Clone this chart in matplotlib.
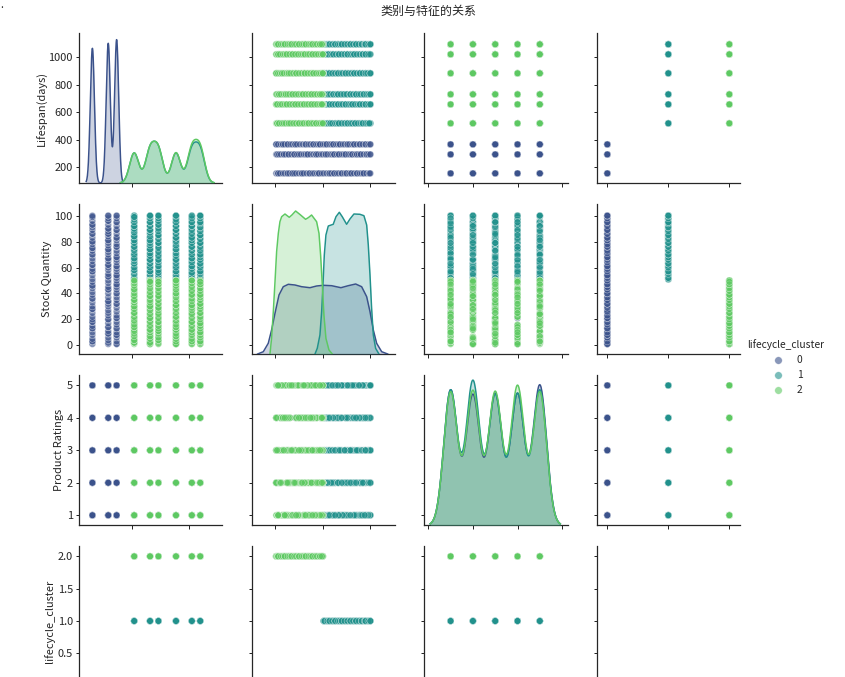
import matplotlib
matplotlib.use("Agg")
import matplotlib.pyplot as plt
from matplotlib.lines import Line2D
import numpy as np

plt.rcParams['font.family'] = ['Noto Sans CJK SC', 'DejaVu Sans']
plt.rcParams['axes.unicode_minus'] = False
plt.rcParams['text.color'] = '.15'
plt.rcParams['axes.labelcolor'] = '.15'
plt.rcParams['xtick.color'] = '.15'
plt.rcParams['ytick.color'] = '.15'
plt.rcParams['axes.edgecolor'] = '.15'

###############################################################################
# Data
###############################################################################

lifespan_levels = [156, 294, 367, 520, 658, 731, 884, 1022, 1095]

# Stock quantity seen at every lifespan (repeats are the darker dots)
stock_156 = [1,3,3,5,8,10,13,13,15,18,18,20,22,25,28,28,30,33,36,36,39,41,44,46,46,49,51,54,57,57,59,62,62,65,67,70,70,73,75,75,78,80,80,83,86,86,89,91,93,93,96,99,99,100]
stock_294 = [1,2,4,6,9,9,11,14,14,17,20,20,23,25,27,30,32,34,34,37,40,43,43,45,48,50,53,53,55,58,60,62,62,65,67,67,70,72,74,74,77,79,81,81,84,86,86,88,90,90,93,96,96,98,100,100]
stock_367 = [1,1,3,6,8,8,10,13,13,16,18,21,21,23,26,29,32,32,35,37,40,40,43,45,47,47,50,52,54,54,57,59,61,61,64,66,68,68,71,73,76,76,78,81,83,83,86,89,89,92,95,95,98,100,100]
stock_520 = [2,3,3,6,8,10,10,13,15,17,17,20,22,25,25,28,30,32,32,35,37,39,39,42,44,47,47,49,51,52,55,57,57,60,63,63,66,68,70,70,73,76,79,79,82,85,85,88,91,91,94,95,95,98,100,100]
stock_658 = [1,3,3,5,8,10,12,12,15,18,18,21,24,27,29,31,31,34,36,39,39,42,45,48,50,50,52,54,56,56,59,61,61,64,67,67,70,73,76,76,79,81,83,83,86,89,92,92,95,95,98,100]
stock_731 = [2,4,4,7,9,11,14,14,16,19,22,25,25,28,30,33,35,35,38,40,43,43,46,48,50,50,52,55,58,58,60,63,65,67,67,70,73,76,76,79,81,84,84,87,90,92,92,95,97,99,99]
stock_884 = [1,2,2,5,7,10,12,12,15,18,21,21,24,27,30,30,33,35,38,38,41,44,47,49,49,51,54,57,57,60,63,66,66,69,71,74,74,77,79,81,81,84,87,89,89,92,95,95,98,100,100]
stock_1022 = [1,4,4,6,9,11,11,13,15,18,18,21,24,27,29,29,32,35,38,38,41,44,47,47,49,52,54,56,56,58,61,61,64,66,66,69,72,75,79,79,82,85,85,88,90,93,93,96,98,100,100]
stock_1095 = [1,1,3,5,7,7,9,12,14,14,16,19,22,22,25,28,31,31,34,37,40,40,43,46,48,50,50,52,54,57,57,60,63,66,66,69,71,74,74,77,80,83,83,86,89,89,92,95,97,100,100]

ratings_a = [3,1,5,2,4,1,4,2,5,3,5,2,1,3,4,2,5,4,1,3,4,1,3,5,2,5,3,2,4,1,2,4,1,5,3,1,5,3,4,2,3,5,2,1,4,4,2,5,1,3,1,3,4,2,5,2,1,5,3,4]
ratings_b = [2,5,3,4,1,4,1,3,2,5,1,3,5,4,2,5,3,1,4,2,3,5,2,1,4,1,4,5,3,2,5,2,4,3,1,4,2,1,5,3,5,1,3,4,2,2,4,1,3,5,3,2,5,4,1,4,3,1,2,5]
ratings_c = [4,2,1,5,3,5,3,1,4,2,3,5,4,2,1,3,1,2,5,4,1,4,5,2,3,2,5,1,4,3,1,3,5,4,2,3,1,4,2,5,2,4,5,3,1,5,1,3,4,2,4,5,1,3,2,3,2,4,5,1]

# level, stock list, rating list; the longer lifespans hold more products
products = [
    (156, stock_156, ratings_a), (294, stock_294, ratings_b), (367, stock_367, ratings_c),
    (520, stock_520, ratings_b), (658, stock_658, ratings_c), (731, stock_731, ratings_a),
    (884, stock_884, ratings_c), (1022, stock_1022, ratings_a), (1095, stock_1095, ratings_b),
    (520, stock_884, ratings_a), (658, stock_1095, ratings_a), (731, stock_520, ratings_c),
    (884, stock_658, ratings_b), (1022, stock_731, ratings_b), (1095, stock_1022, ratings_c),
    (520, stock_731, ratings_c), (658, stock_884, ratings_b), (731, stock_1022, ratings_b),
    (884, stock_1095, ratings_c), (1022, stock_658, ratings_a), (1095, stock_520, ratings_a),
]

# KDE inputs: estimated number of products per level and per cluster
total_products = 10000
life_counts_0 = [1090, 1130, 1160]
life_counts_1 = [540, 570, 570, 540, 560, 560]
life_counts_2 = [540, 570, 570, 545, 595, 595]
rating_levels = [1, 2, 3, 4, 5]
rating_counts_0 = [675, 650, 655, 655, 700]
rating_counts_1 = [675, 720, 650, 655, 675]
rating_counts_2 = [665, 670, 665, 695, 665]

# Stock density curves, heights
stock_kde_x_0 = [-18.6,-12.6,-7.4,-3.9,-0.3,3.9,8.4,13.7,20.7,27.7,36.5,43.5,50.5,59.3,69.1,76.8,84.6,90.9,96.2,99.7,103.2,106.7,112,118.3]
stock_kde_y_0 = [0,2.3,10.7,24,40.7,59,67.3,69.7,69,67.3,66.3,68,68.7,68.3,66.3,68.3,70,67.3,57.3,42.3,24,10.7,2.3,0]
stock_kde_x_1 = [41.8,44.2,47,48.8,50.2,51.6,53.3,55.8,61,63.9,67.4,70.5,75.1,78.6,82.8,89.1,93.3,96.2,97.9,99.7,101.4,103.2,105.6,109.1]
stock_kde_y_1 = [0,5.7,19,42.3,69,99,119,128,129.7,137.3,141.7,137.3,129.7,135,140,139.7,138.3,129,109,79,45.7,19,5.7,0]
stock_kde_x_2 = [-5.6,-3.9,-2.1,-0.3,1.4,3.2,4.9,6.7,10.2,14.7,17.5,21.4,26,31.9,35,38.2,43.5,46,47.7,49.5,51.2,53.3,56.5,60]
stock_kde_y_2 = [0,15.7,42.3,72.3,102.3,120.7,132.3,137.3,140,136.7,139,143,139.5,134.7,136.5,139,132.3,120.7,99,69,39,15.7,4,0]

palette = ['#3b528b', '#21918c', '#5ec962']
names = ['Lifespan(days)', 'Stock Quantity', 'Product Ratings', 'lifecycle_cluster']

###############################################################################
# Build the table
###############################################################################

lifespan = []
stock = []
rating = []
for level, s_list, r_list in products:
    for s, r in zip(s_list, r_list):
        lifespan.append(level)
        stock.append(s)
        rating.append(r)
lifespan = np.array(lifespan)
stock = np.array(stock)
rating = np.array(rating)
cluster = np.where(lifespan < 400, 0, np.where(stock > 50, 1, 2))

# the source table is sorted by cluster, so later clusters sit on top
order = np.argsort(cluster, kind='stable')
columns = [lifespan[order], stock[order], rating[order], cluster[order]]
point_colors = [palette[c] for c in cluster[order]]


def kde(levels, counts, bw):
    levels = np.asarray(levels, dtype=float)
    grid = np.linspace(levels.min() - 3*bw, levels.max() + 3*bw, 300)
    dens = np.zeros_like(grid)
    for level, count in zip(levels, counts):
        dens += count * np.exp(-0.5*((grid - level)/bw)**2) / (bw*np.sqrt(2*np.pi))
    return grid, dens / total_products


###############################################################################
# Figure
###############################################################################

W, H = 845.0, 677.0
fig = plt.figure(figsize=(W/72, H/72), dpi=72)

col_px = [(79.3, 221.7), (252.3, 394.7), (424.3, 567.7), (597.3, 739.7)]
row_px = [(33, 183), (204.3, 354), (375, 525.3), (546.3, 696)]
label_px = [47.5, 51.5, 63.5, 54.5]

xlims = [(42, 1282), (-24.2, 125.7), (-0.18, 6.25), (-0.164, 2.17)]
ylims = [(86, 1177), (-6.7, 108.8), (0.69, 5.32), (-0.16, 2.155)]
xticks = [[500, 1000], [0, 50, 100], [0, 2, 4, 6], [0, 1, 2]]
yticks = [[200, 400, 600, 800, 1000], [0, 20, 40, 60, 80, 100], [1, 2, 3, 4, 5], [0, 0.5, 1, 1.5, 2]]

for i, (top, bottom) in enumerate(row_px):
    for j, (left, right) in enumerate(col_px):
        ax = fig.add_axes([left/W, 1 - bottom/H, (right - left)/W, (bottom - top)/H])
        ax.set_xlim(xlims[j])
        ax.set_ylim(ylims[i])
        ax.set_xticks(xticks[j])
        ax.set_yticks(yticks[i])
        ax.spines['top'].set_visible(False)
        ax.spines['right'].set_visible(False)
        ax.spines['left'].set_linewidth(1.25)
        ax.spines['bottom'].set_linewidth(1.25)
        ax.tick_params(axis='x', length=4, width=1.0, labelbottom=False)
        ax.tick_params(axis='y', length=3, width=1.0, labelsize=11, labelleft=(j == 0))
        if i == 3:
            # the 0.0 tick falls below the bottom of the picture
            ax.set_yticklabels(['', '0.5', '1.0', '1.5', '2.0'])
        if j == 0:
            ax.set_ylabel(names[i], fontsize=11)
            ax.yaxis.set_label_coords((label_px[i] - left)/(right - left), 0.5)

        if i != j:
            ax.scatter(columns[j], columns[i], c=point_colors, s=46, alpha=0.6,
                       edgecolor='white', linewidth=0.5)
            continue
        if i == 3:
            continue

        # diagonal densities live on a hidden twin axis
        diag = ax.twinx()
        diag.set_yticks([])
        for side in diag.spines.values():
            side.set_visible(False)
        if i == 0:
            curves = [kde(lifespan_levels[:3], life_counts_0, 18),
                      kde(lifespan_levels[3:], life_counts_1, 40),
                      kde(lifespan_levels[3:], life_counts_2, 40)]
            diag.set_ylim(0, 0.00269)
        elif i == 1:
            curves = [(stock_kde_x_0, stock_kde_y_0),
                      (stock_kde_x_1, stock_kde_y_1),
                      (stock_kde_x_2, stock_kde_y_2)]
            diag.set_ylim(0, 149.7)
        else:
            curves = [kde(rating_levels, rating_counts_0, 0.305),
                      kde(rating_levels, rating_counts_1, 0.305),
                      kde(rating_levels, rating_counts_2, 0.305)]
            diag.set_ylim(0, 0.0983)
        for c, (cx, cy) in enumerate(curves):
            diag.fill_between(cx, 0, cy, color=palette[c], alpha=0.25, linewidth=0)
            diag.plot(cx, cy, color=palette[c], linewidth=1.5)

handles = [Line2D([], [], linestyle='none', marker='o', markersize=7.5, color=c,
                  markeredgecolor='white', markeredgewidth=0.5, alpha=0.6)
           for c in palette]
fig.legend(handles, ['0', '1', '2'], title='lifecycle_cluster', frameon=False,
           loc='upper left', bbox_to_anchor=(737.5/W, 1 - 330/H), fontsize=10.2,
           title_fontsize=10.2, labelspacing=0.5)

fig.text(428/W, 1 - 11/H, '类别与特征的关系', ha='center', va='center', fontsize=12)
fig.text(2/W, 1 - 8/H, '.', ha='center', va='baseline', fontsize=10)

fig.savefig('out.png', dpi=72)
